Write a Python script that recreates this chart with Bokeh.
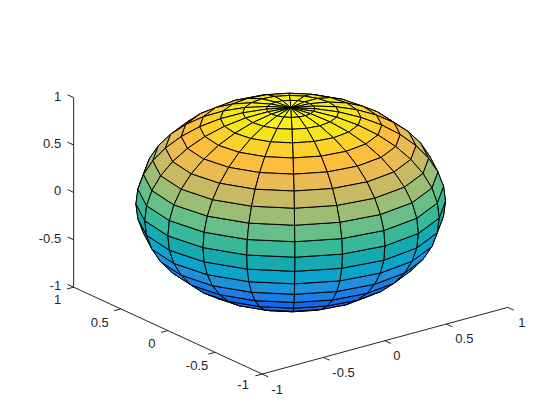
from bokeh.plotting import figure
from bokeh.embed import file_html
from bokeh.resources import INLINE
from bokeh.core.properties import value
import math

# mesh of the surface (degrees), and one colour per latitude band (south to north)
latitudes = [-90, -81, -72, -63, -54, -45, -36, -27, -18, -9, 0, 9, 18, 27, 36, 45, 54, 63, 72, 81, 90]
longitudes = [-180, -162, -144, -126, -108, -90, -72, -54, -36, -18, 0, 18, 36, 54, 72, 90, 108, 126, 144, 162, 180]
band_colors = [
    "#3e26a8", "#4035c8", "#4548e0", "#4658f0", "#2c64e8", "#106cea", "#1a7ee6", "#1c92dc",
    "#0ba5cc", "#14aab0", "#3ab99a", "#68be88", "#9cbe74", "#c8b964", "#ecba52", "#fdbe3c",
    "#fad22a", "#f5e519", "#f9f214", "#f9f816",
]

ticks = [-1, -0.5, 0, 0.5, 1]
tick_labels = ["-1", "-0.5", "0", "0.5", "1"]

AZ, EL = math.radians(-37.5), math.radians(30)
SX, SY = 154.8, 109.45
CX, CY = 290.2, 202.0
W, H = 544, 404
INK = "#262626"


def project(x, y, z):
    u = math.cos(AZ) * x + math.sin(AZ) * y
    v = -math.sin(EL) * math.sin(AZ) * x + math.sin(EL) * math.cos(AZ) * y + math.cos(EL) * z
    return u, v


def depth(x, y, z):
    return (math.cos(EL) * math.sin(AZ) * x - math.cos(EL) * math.cos(AZ) * y + math.sin(EL) * z)


def point(lat, lon):
    a, b = math.radians(lat), math.radians(lon)
    return math.cos(a) * math.cos(b), math.cos(a) * math.sin(b), math.sin(a)


p = figure(
    width=W, height=H, output_backend="svg", toolbar_location=None,
    x_range=((0 - CX) / SX, (W - CX) / SX), y_range=((CY - H) / SY, (CY - 0) / SY),
    x_axis_type=None, y_axis_type=None, min_border=0, outline_line_color=None,
    background_fill_color="white", border_fill_color="white",
)
p.grid.visible = False

# surface
faces = []
for i in range(len(latitudes) - 1):
    for j in range(len(longitudes) - 1):
        corners = [point(latitudes[i], longitudes[j]), point(latitudes[i], longitudes[j + 1]),
                   point(latitudes[i + 1], longitudes[j + 1]), point(latitudes[i + 1], longitudes[j])]
        d = sum(depth(*c) for c in corners) / 4
        pr = [project(*c) for c in corners]
        faces.append((d, [q[0] for q in pr], [q[1] for q in pr], band_colors[i]))
faces.sort(key=lambda f: f[0])
p.patches([f[1] for f in faces], [f[2] for f in faces], fill_color=[f[3] for f in faces],
          line_color="black", line_width=1)


def draw_axis(ends, tick_point, tick_dir, label_off):
    a = project(*ends[0]); b = project(*ends[1])
    p.line([a[0], b[0]], [a[1], b[1]], line_color=INK, line_width=1)
    x0, y0, x1, y1, lx, ly, ox, oy = [], [], [], [], [], [], [], []
    for t, off in zip(ticks, label_off):
        q = tick_point(t)
        s = project(*q)
        e = project(*[q[k] + tick_dir[k] for k in range(3)])
        x0.append(s[0]); y0.append(s[1]); x1.append(e[0]); y1.append(e[1])
        lx.append(s[0]); ly.append(s[1]); ox.append(off[0]); oy.append(off[1])
    p.segment(x0, y0, x1, y1, line_color=INK, line_width=1)
    return lx, ly, ox, oy


def labels(lx, ly, ox, oy, align):
    p.text(lx, ly, text=tick_labels, x_offset=ox, y_offset=oy, text_font=value("Liberation Sans"),
           text_font_size="13px", text_color=INK, text_align=align, text_baseline="middle")


# z axis (at x=-1, y=1), ticks toward +y
r = draw_axis([(-1, 1, -1), (-1, 1, 1)], lambda t: (-1, 1, t), (0, 0.065, 0), [(-12.5, -1.5)] * 5)
labels(*r, "right")
# y axis (at x=-1, z=-1), ticks toward -x
r = draw_axis([(-1, -1, -1), (-1, 1, -1)], lambda t: (-1, t, -1), (-0.055, 0, 0),
              [(-19, 10.5), (-18, 13), (-16, 13), (-21, 14), (-16, 12)])
labels(*r, "center")
# x axis (at y=-1, z=-1), ticks toward -y
r = draw_axis([(-1, -1, -1), (1, -1, -1)], lambda t: (t, -1, -1), (0, -0.065, 0),
              [(15, 15), (20, 15), (12, 15), (18, 14), (14, 15)])
labels(*r, "center")

open("out.html", "w").write(file_html(p, INLINE))
